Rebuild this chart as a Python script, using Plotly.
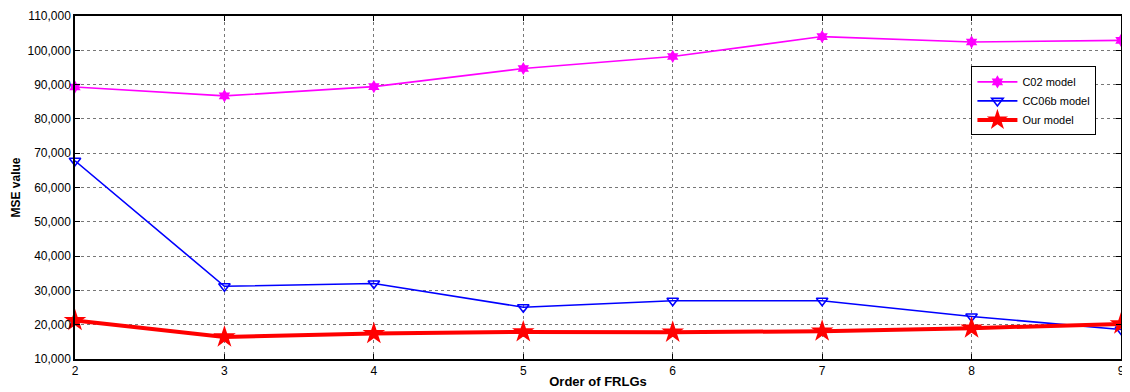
import plotly.graph_objects as go

orders = [2, 3, 4, 5, 6, 7, 8, 9]
c02 = [89300, 86700, 89400, 94700, 98200, 104000, 102400, 102900]
cc06b = [67800, 31200, 32000, 25100, 27000, 27000, 22400, 18600]
ours = [21200, 16400, 17400, 17900, 17800, 18100, 19000, 20200]
y_ticks = [10000, 20000, 30000, 40000, 50000, 60000, 70000, 80000, 90000, 100000, 110000]

fig = go.Figure()
fig.add_trace(go.Scatter(
    x=orders, y=c02, name="C02 model", mode="lines+markers",
    line=dict(color="#FF00FF", width=1.6),
    marker=dict(symbol="hexagram", size=10, color="#FF00FF"),
    cliponaxis=False))
fig.add_trace(go.Scatter(
    x=orders, y=cc06b, name="CC06b model", mode="lines+markers",
    line=dict(color="#0000FF", width=1.6),
    marker=dict(symbol="triangle-down-open", size=10, color="#0000FF", line=dict(width=1.6, color="#0000FF")),
    cliponaxis=False))
fig.add_trace(go.Scatter(
    x=orders, y=ours, name="Our model", mode="lines+markers",
    line=dict(color="#FF0000", width=4),
    marker=dict(symbol="star", size=17, color="#FF0000"),
    cliponaxis=False))

fig.update_layout(
    width=1122, height=384,
    margin=dict(l=67, r=5, t=8, b=21),
    plot_bgcolor="white", paper_bgcolor="white",
    font=dict(family="Arial, Liberation Sans", size=12, color="black"),
    legend=dict(x=0.857, y=0.853, xanchor="left", yanchor="top",
                bgcolor="white", bordercolor="black", borderwidth=1,
                font=dict(size=11), tracegroupgap=0, itemwidth=40),
)
fig.update_xaxes(
    range=[2, 9], tickvals=orders, ticks="inside", ticklen=5, tickcolor="black",
    showline=True, linecolor="black", linewidth=1.5, mirror="ticks",
    showgrid=True, gridcolor="#777777", griddash="dot", gridwidth=1,
    zeroline=False, tickfont=dict(size=12), ticklabeloverflow="allow", automargin=True,
    title=dict(text="<b>Order of FRLGs</b>", font=dict(size=13), standoff=0))
fig.update_yaxes(
    range=[10000, 110000], tickvals=y_ticks, tickformat=",d", ticks="inside", ticklen=5,
    tickcolor="black", showline=True, linecolor="black", linewidth=1.5, mirror="ticks",
    showgrid=True, gridcolor="#777777", griddash="dot", gridwidth=1,
    zeroline=False, tickfont=dict(size=12), automargin=False,
    title=dict(text="<b>MSE value</b>", font=dict(size=12), standoff=4))

fig.write_html("out.html")
